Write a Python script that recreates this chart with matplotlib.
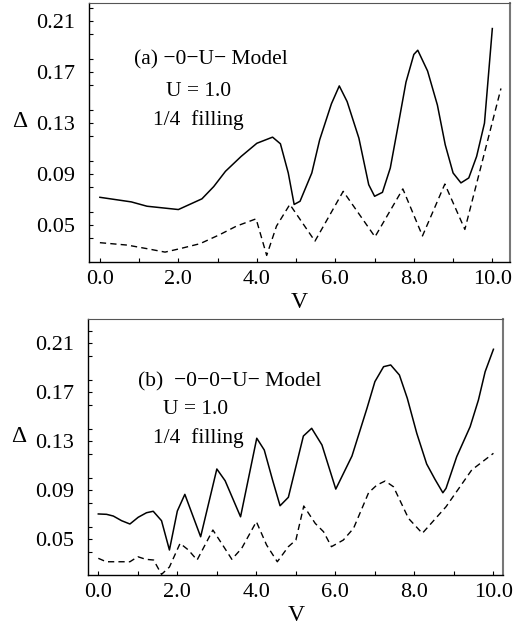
import matplotlib
matplotlib.use('Agg')
import matplotlib.pyplot as plt
from matplotlib.ticker import MultipleLocator, FormatStrFormatter

# Daten Panel (a): -0-U- Modell
va_solid = [0.0, 0.8, 1.2, 2.0, 2.6, 2.9, 3.2, 3.6, 4.0, 4.4, 4.6, 4.8, 4.95, 5.1, 5.4, 5.6,
            5.9, 6.1, 6.3, 6.6, 6.85, 7.0, 7.2, 7.4, 7.6, 7.8, 8.0, 8.1, 8.35, 8.6, 8.8,
            9.0, 9.2, 9.4, 9.6, 9.8, 10.0]
da_solid = [0.0716, 0.068, 0.0646, 0.062, 0.0704, 0.080, 0.092, 0.1037, 0.114, 0.1188, 0.1136,
            0.0907, 0.066, 0.0685, 0.0907, 0.1167, 0.145, 0.159, 0.1467, 0.118, 0.0815, 0.0724,
            0.0755, 0.0946, 0.128, 0.162, 0.1837, 0.187, 0.1707, 0.144, 0.1128, 0.0907, 0.0829,
            0.0868, 0.1037, 0.1298, 0.204]
va_dash = [0.0, 0.7, 1.2, 1.66, 2.04, 2.55, 3.06, 3.48, 3.98, 4.25, 4.5, 4.84, 5.48, 6.2,
           7.01, 7.72, 8.22, 8.79, 9.3, 10.22]
da_dash = [0.036, 0.0341, 0.0313, 0.0286, 0.0313, 0.0352, 0.0424, 0.049, 0.0547, 0.026, 0.049,
           0.066, 0.0372, 0.0763, 0.0406, 0.0782, 0.0413, 0.082, 0.0464, 0.157]

# Daten Panel (b): -0-0-U- Modell
vb_solid = [0.0, 0.21, 0.38, 0.59, 0.8, 1.01, 1.22, 1.39, 1.6, 1.8, 2.0, 2.19, 2.59, 3.0, 3.21,
            3.6, 4.01, 4.2, 4.41, 4.6, 4.81, 5.19, 5.4, 5.66, 6.01, 6.42, 6.8, 7.0, 7.22, 7.4,
            7.62, 7.82, 8.06, 8.31, 8.52, 8.72, 8.8, 9.07, 9.41, 9.62, 9.79, 10.0]
db_solid = [0.0707, 0.0704, 0.069, 0.0652, 0.0625, 0.068, 0.0717, 0.0729, 0.0652, 0.0413,
            0.0731, 0.0867, 0.0521, 0.1074, 0.0978, 0.0684, 0.1325, 0.1229, 0.0984, 0.0774,
            0.0843, 0.1343, 0.1406, 0.127, 0.091, 0.118, 0.157, 0.1787, 0.1909, 0.1923, 0.1841,
            0.1651, 0.1365, 0.1115, 0.099, 0.088, 0.0916, 0.1174, 0.1419, 0.1637, 0.1868, 0.2051]
vb_dash = [0.0, 0.2, 0.8, 1.0, 1.2, 1.4, 1.6, 1.8, 2.07, 2.28, 2.5, 2.9, 3.12, 3.38, 3.63,
           4.0, 4.26, 4.53, 4.81, 5.0, 5.2, 5.49, 5.7, 5.9, 6.2, 6.46, 6.84, 7.05, 7.26, 7.47,
           7.85, 8.2, 8.8, 9.45, 10.0]
db_dash = [0.0345, 0.0317, 0.0317, 0.0358, 0.0337, 0.0331, 0.0214, 0.0274, 0.0467, 0.0413,
           0.0331, 0.0576, 0.0467, 0.0337, 0.0427, 0.0644, 0.0453, 0.0317, 0.044, 0.0494,
           0.0772, 0.063, 0.0562, 0.044, 0.0494, 0.059, 0.088, 0.0943, 0.0976, 0.0929, 0.0671,
           0.0549, 0.0766, 0.1066, 0.1202]

labels_a = ['(a) \u22120\u2212U\u2212 Model', 'U = 1.0', '1/4  filling']
labels_b = ['(b)  \u22120\u22120\u2212U\u2212 Model', 'U = 1.0', '1/4  filling']

plt.rcParams['font.family'] = ['Liberation Serif', 'DejaVu Serif']


def draw_panel(ax, xs, ys, xd, yd, labels, xlim, ylim, text_pos):
    ax.plot(xs, ys, color='black', linewidth=1.1)
    ax.plot(xd, yd, color='black', linewidth=1.0, dashes=(4.5, 3))
    ax.set_xlim(*xlim)
    ax.set_ylim(*ylim)

    # Achsen: Striche nach innen, nur links und unten
    ax.xaxis.set_major_locator(MultipleLocator(2.0))
    ax.xaxis.set_minor_locator(MultipleLocator(1.0))
    ax.yaxis.set_minor_locator(MultipleLocator(0.02))
    ax.set_yticks([0.05, 0.09, 0.13, 0.17, 0.21])
    ax.xaxis.set_major_formatter(FormatStrFormatter('%.1f'))
    ax.yaxis.set_major_formatter(FormatStrFormatter('%.2f'))
    ax.tick_params(which='both', direction='in', length=3, width=0.8,
                   top=False, right=False, labelsize=16)
    ax.tick_params(axis='x', which='both', pad=6)
    ax.tick_params(axis='y', which='both', pad=10)
    for side in ['left', 'bottom']:
        ax.spines[side].set_linewidth(1.0)
    ax.spines['right'].set_color('#777777')
    ax.spines['right'].set_linewidth(1.5)
    ax.spines['top'].set_color('#555555')
    ax.spines['top'].set_linewidth(0.8)

    ax.set_xlabel('V', fontsize=17, labelpad=2)
    ax.set_ylabel('\u0394', fontsize=17, rotation=0, labelpad=12)

    # Beschriftung im Diagramm
    for txt, (tx, ty) in zip(labels, text_pos):
        ax.text(tx, ty, txt, transform=ax.transAxes, fontsize=15.5, va='center')


fig = plt.figure(figsize=(5.25, 6.26), dpi=100)
ax1 = fig.add_axes([0.1701, 0.582, 0.8013, 0.4137])
ax2 = fig.add_axes([0.1682, 0.0815, 0.7905, 0.4085])

draw_panel(ax1, va_solid, da_solid, va_dash, da_dash, labels_a, (-0.27, 10.45), (0.0211, 0.2243),
           [(0.106, 0.781), (0.182, 0.658), (0.151, 0.546)])
draw_panel(ax2, vb_solid, db_solid, vb_dash, db_dash, labels_b, (-0.253, 10.25), (0.0209, 0.2296),
           [(0.120, 0.756), (0.179, 0.648), (0.155, 0.535)])

fig.savefig('out.png', dpi=100)
